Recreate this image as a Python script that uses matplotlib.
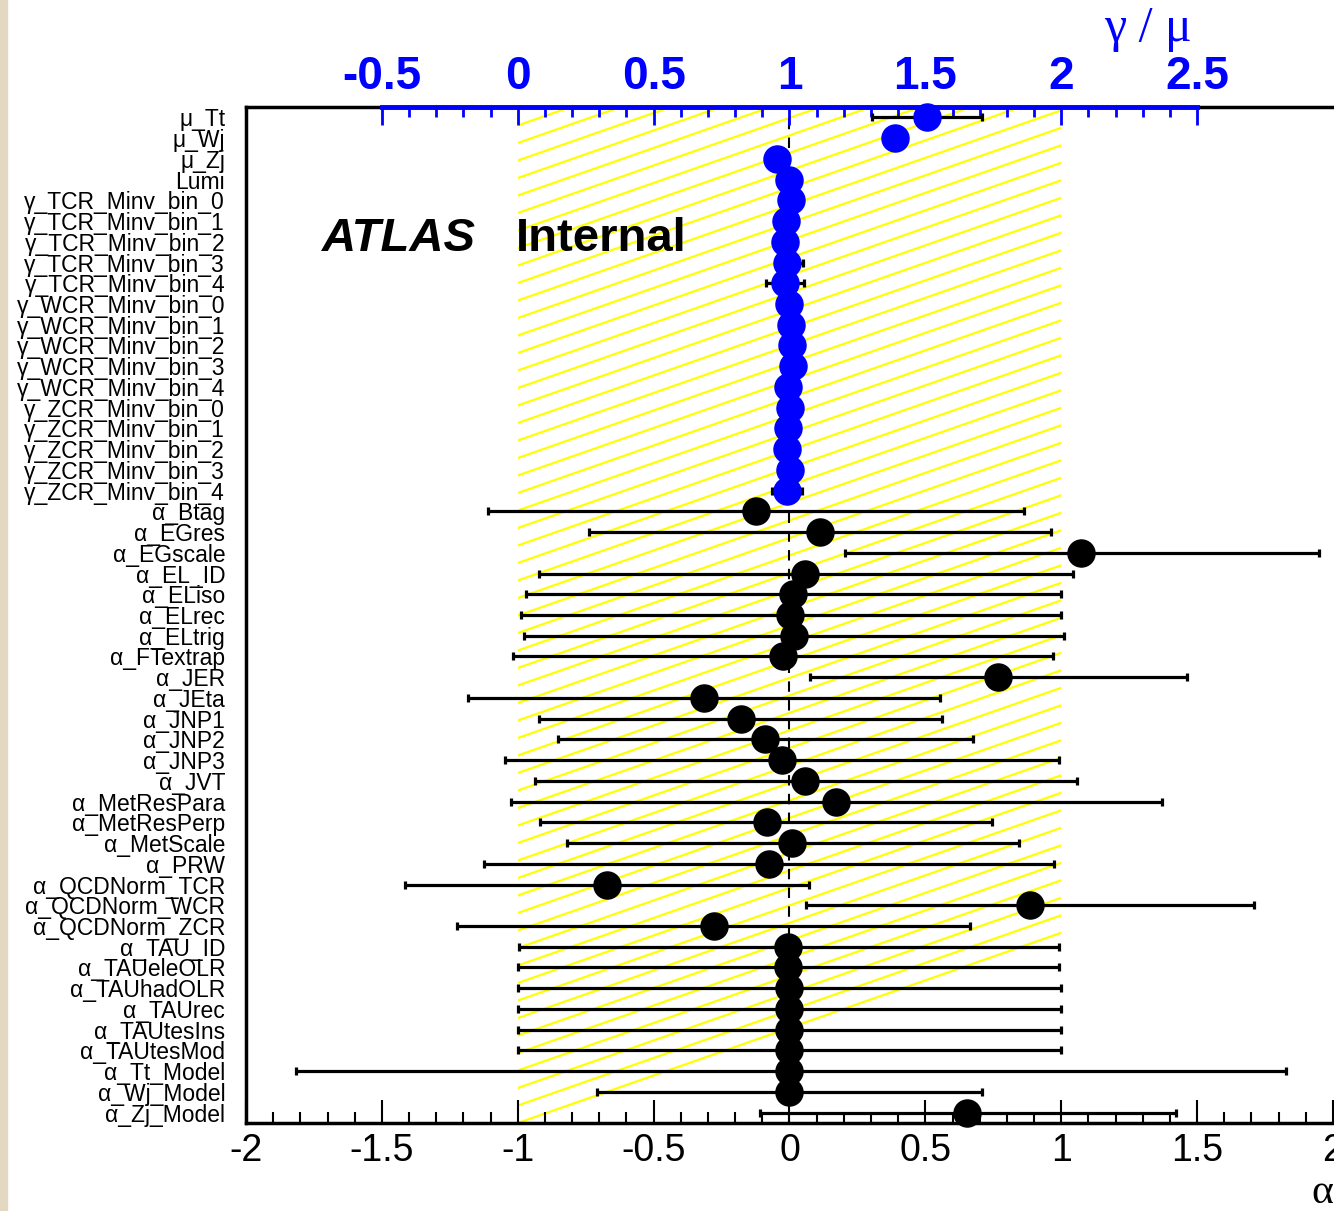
import numpy as np
import matplotlib.pyplot as plt
from matplotlib.collections import LineCollection
from matplotlib.patches import Rectangle
from matplotlib.ticker import MultipleLocator, FixedLocator

plt.rcParams['font.family'] = ['Liberation Sans', 'DejaVu Sans']
plt.rcParams['axes.unicode_minus'] = False

# normalisation factors and stat gammas, read on the gamma/mu scale (top axis)
norm_names = ["μ_Tt", "μ_Wj", "μ_Zj", "Lumi",
              "γ_TCR_Minv_bin_0", "γ_TCR_Minv_bin_1", "γ_TCR_Minv_bin_2",
              "γ_TCR_Minv_bin_3", "γ_TCR_Minv_bin_4",
              "γ_WCR_Minv_bin_0", "γ_WCR_Minv_bin_1", "γ_WCR_Minv_bin_2",
              "γ_WCR_Minv_bin_3", "γ_WCR_Minv_bin_4",
              "γ_ZCR_Minv_bin_0", "γ_ZCR_Minv_bin_1", "γ_ZCR_Minv_bin_2",
              "γ_ZCR_Minv_bin_3", "γ_ZCR_Minv_bin_4"]
norm_vals = [1.507, 1.389, 0.954, 1.000,
             1.006, 0.987, 0.983, 0.991, 0.983,
             0.998, 1.006, 1.009, 1.013, 0.994,
             1.002, 0.994, 0.991, 1.002, 0.991]
norm_lo = [1.302, 1.360, 0.925, 0.975,
           0.970, 0.955, 0.950, 0.952, 0.915,
           0.965, 0.970, 0.975, 0.980, 0.960,
           0.965, 0.960, 0.955, 0.965, 0.937]
norm_hi = [1.709, 1.418, 0.983, 1.025,
           1.040, 1.020, 1.020, 1.050, 1.055,
           1.030, 1.040, 1.040, 1.045, 1.030,
           1.035, 1.030, 1.025, 1.035, 1.047]

# nuisance parameter pulls (bottom axis)
nuis_names = ["α_Btag", "α_EGres", "α_EGscale", "α_EL_ID", "α_ELiso", "α_ELrec",
              "α_ELtrig", "α_FTextrap", "α_JER", "α_JEta", "α_JNP1", "α_JNP2",
              "α_JNP3", "α_JVT", "α_MetResPara", "α_MetResPerp", "α_MetScale",
              "α_PRW", "α_QCDNorm_TCR", "α_QCDNorm_WCR", "α_QCDNorm_ZCR",
              "α_TAU_ID", "α_TAUeleOLR", "α_TAUhadOLR", "α_TAUrec", "α_TAUtesIns",
              "α_TAUtesMod", "α_Tt_Model", "α_Wj_Model", "α_Zj_Model"]
nuis_vals = [-0.125, 0.113, 1.072, 0.057, 0.013, 0.002,
             0.018, -0.024, 0.766, -0.315, -0.180, -0.090,
             -0.029, 0.057, 0.172, -0.083, 0.011,
             -0.076, -0.673, 0.886, -0.279,
             -0.004, -0.005, 0.000, 0.000, 0.000,
             0.000, 0.000, 0.000, 0.653]
nuis_lo = [-1.110, -0.736, 0.205, -0.921, -0.969, -0.989,
           -0.976, -1.017, 0.074, -1.183, -0.921, -0.852,
           -1.046, -0.937, -1.024, -0.917, -0.817,
           -1.124, -1.415, 0.061, -1.224,
           -0.996, -1.000, -1.000, -1.000, -1.000,
           -1.000, -1.817, -0.710, -0.109]
nuis_hi = [0.862, 0.963, 1.950, 1.042, 0.998, 0.998,
           1.009, 0.969, 1.463, 0.555, 0.561, 0.675,
           0.991, 1.057, 1.370, 0.744, 0.843,
           0.972, 0.070, 1.710, 0.666,
           0.990, 0.990, 1.000, 1.000, 1.000,
           1.000, 1.828, 0.710, 1.422]

W, H = 1334, 1211
fig = plt.figure(figsize=(W / 100, H / 100), dpi=100)

n = len(norm_names) + len(nuis_names)
rows = np.arange(n)
px = 271.75          # pixels per unit of alpha
x_lo, x_hi = -2.0, 2.3
ax_top_px, ax_bot_px = 107, 1123
ax = fig.add_axes([246 / W, 1 - ax_bot_px / H, (x_hi - x_lo) * px / W,
                   (ax_bot_px - ax_top_px) / H])
ax.set_xlim(x_lo, x_hi)
ax.set_ylim(n - 0.5, -0.5)

# yellow hatched +-1 band
row_px = (ax_bot_px - ax_top_px) / n
slope = 0.35 * px / row_px
step = 17.5 / row_px
offsets = np.arange(0, n + 2 * slope + 1, step)
segs = [[(-1, n - 0.5 - o), (1, n - 0.5 - o - 2 * slope)] for o in offsets]
band = Rectangle((-1, -0.5), 2, n, fill=False, edgecolor='none')
ax.add_patch(band)
hatch = LineCollection(segs, colors='#ffff00', linewidths=1.6, zorder=1)
ax.add_collection(hatch)
hatch.set_clip_path(band)

ax.axvline(0, color='black', lw=1.5, ls=(0, (5, 4)), zorder=2)

xv = np.array(nuis_vals)
ax.errorbar(xv, rows[len(norm_names):],
            xerr=[xv - np.array(nuis_lo), np.array(nuis_hi) - xv],
            fmt='o', color='black', ms=19.5, elinewidth=2.3,
            capsize=3, capthick=2.3, zorder=3, clip_on=False)

ax.set_yticks(rows, norm_names + nuis_names)
ticks = np.arange(-2, 2.01, 0.5)
ax.set_xticks(ticks, [f"{t:g}" for t in ticks])
ax.xaxis.set_minor_locator(MultipleLocator(0.1))
ax.tick_params(axis='x', which='both', direction='in', top=False,
               labelsize=27, pad=7, width=1.5)
ax.tick_params(axis='x', which='major', length=16.5)
ax.tick_params(axis='x', which='minor', length=8)
ax.tick_params(axis='y', length=0, labelsize=16.5, pad=15)
for s in ['left', 'bottom', 'top']:
    ax.spines[s].set_linewidth(2.5)
ax.spines['right'].set_visible(False)

# gamma / mu axis on top
axt = ax.twiny()
axt.set_xlim(x_lo + 1, x_hi + 1)
nv = np.array(norm_vals)
axt.errorbar(nv, rows[:len(norm_names)],
             xerr=[nv - np.array(norm_lo), np.array(norm_hi) - nv],
             fmt='o', color='blue', ecolor='black', ms=19.5, elinewidth=2.3,
             capsize=3, capthick=2.3, zorder=4, clip_on=False)
tticks = np.arange(-0.5, 2.51, 0.5)
axt.set_xticks(tticks, [f"{t:g}" for t in tticks], fontweight='bold')
axt.xaxis.set_minor_locator(FixedLocator(np.arange(-0.5, 2.51, 0.1)))
axt.tick_params(axis='x', which='both', direction='in', colors='blue',
                labelsize=33, pad=6, width=2)
axt.tick_params(axis='x', which='major', length=13)
axt.tick_params(axis='x', which='minor', length=7)
for s in ['left', 'right', 'bottom']:
    axt.spines[s].set_visible(False)
axt.spines['top'].set_bounds(-0.5, 2.5)
axt.spines['top'].set_color('blue')
axt.spines['top'].set_linewidth(3.5)

fig.text(322 / W, 1 - 251 / H, "ATLAS", fontsize=34, fontweight='bold',
         fontstyle='italic', va='baseline')
fig.text(516 / W, 1 - 251 / H, "Internal", fontsize=34, fontweight='bold',
         va='baseline')
fig.text(1104 / W, 1 - 41 / H, "γ / μ", family=['Liberation Serif', 'DejaVu Serif'],
         color='blue', fontsize=36, va='baseline')
fig.text(1311 / W, 1 - 1203 / H, "α", family=['Liberation Serif', 'DejaVu Serif'],
         fontsize=30, va='baseline')

fig.add_artist(Rectangle((0, 0), 7 / W, 1, transform=fig.transFigure,
                         color='#e3d9c2', zorder=10))

fig.savefig("out.png", dpi=100)
